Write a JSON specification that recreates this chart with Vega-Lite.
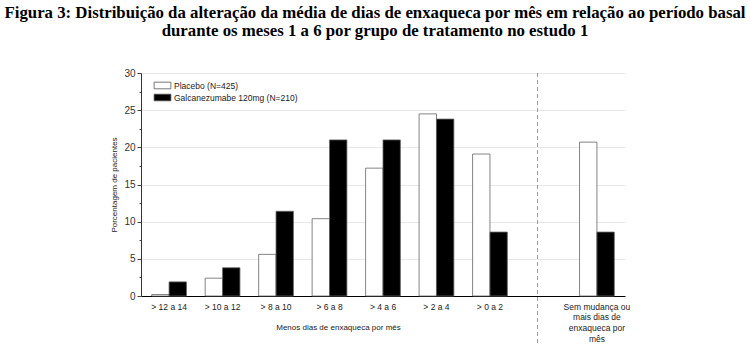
{
  "$schema": "https://vega.github.io/schema/vega-lite/v6.json",
  "width": 484,
  "height": 223,
  "autosize": {"type": "none"},
  "padding": {"left": 141, "top": 73, "right": 125, "bottom": 57},
  "background": "white",
  "title": {
    "text": ["Figura 3: Distribuição da alteração da média de dias de enxaqueca por mês em relação ao período basal", "durante os meses 1 a 6 por grupo de tratamento no estudo 1"],
    "font": "Liberation Serif",
    "fontSize": 16.8,
    "fontWeight": "bold",
    "color": "#000",
    "anchor": "middle",
    "dx": -8,
    "offset": 28,
    "lineHeight": 18
  },
  "config": {
    "view": {"stroke": null},
    "font": "Liberation Sans"
  },
  "resolve": {"axis": {"y": "independent", "x": "independent"}},
  "layer": [
    {
      "data": {
        "values": [
          {"cat": "> 12 a 14", "grp": "Placebo (N=425)", "pct": 0.2},
          {"cat": "> 12 a 14", "grp": "Galcanezumabe 120mg (N=210)", "pct": 1.9},
          {"cat": "> 10 a 12", "grp": "Placebo (N=425)", "pct": 2.4},
          {"cat": "> 10 a 12", "grp": "Galcanezumabe 120mg (N=210)", "pct": 3.8},
          {"cat": "> 8 a 10", "grp": "Placebo (N=425)", "pct": 5.6},
          {"cat": "> 8 a 10", "grp": "Galcanezumabe 120mg (N=210)", "pct": 11.4},
          {"cat": "> 6 a 8", "grp": "Placebo (N=425)", "pct": 10.4},
          {"cat": "> 6 a 8", "grp": "Galcanezumabe 120mg (N=210)", "pct": 21.0},
          {"cat": "> 4 a 6", "grp": "Placebo (N=425)", "pct": 17.2},
          {"cat": "> 4 a 6", "grp": "Galcanezumabe 120mg (N=210)", "pct": 21.0},
          {"cat": "> 2 a 4", "grp": "Placebo (N=425)", "pct": 24.5},
          {"cat": "> 2 a 4", "grp": "Galcanezumabe 120mg (N=210)", "pct": 23.8},
          {"cat": "> 0 a 2", "grp": "Placebo (N=425)", "pct": 19.1},
          {"cat": "> 0 a 2", "grp": "Galcanezumabe 120mg (N=210)", "pct": 8.6},
          {"cat": "Sem mudança ou mais dias de enxaqueca por mês", "grp": "Placebo (N=425)", "pct": 20.7},
          {"cat": "Sem mudança ou mais dias de enxaqueca por mês", "grp": "Galcanezumabe 120mg (N=210)", "pct": 8.6}
        ]
      },
      "mark": {"type": "bar", "stroke": "#666", "strokeWidth": 0.8},
      "encoding": {
        "x": {
          "field": "cat",
          "type": "nominal",
          "sort": null,
          "scale": {
            "domain": ["> 12 a 14", "> 10 a 12", "> 8 a 10", "> 6 a 8", "> 4 a 6", "> 2 a 4", "> 0 a 2", " ", "Sem mudança ou mais dias de enxaqueca por mês"],
            "paddingInner": 0.35,
            "paddingOuter": 0.2
          },
          "axis": {
            "title": "Menos dias de enxaqueca por mês",
            "titleFontSize": 8,
            "titleFontWeight": "normal",
            "titleColor": "#222",
            "titleX": 197,
            "titleY": 33,
            "titleBaseline": "alphabetic",
            "labelAngle": 0,
            "ticks": false,
            "labelFontSize": 8.5,
            "labelColor": "#222",
            "labelPadding": 6,
            "labelLineHeight": 10.7,
            "domainColor": "#000",
            "labelExpr": "datum.value == 'Sem mudança ou mais dias de enxaqueca por mês' ? ['Sem mudança ou', 'mais dias de', 'enxaqueca por', 'mês'] : datum.label"
          }
        },
        "xOffset": {
          "field": "grp",
          "type": "nominal",
          "sort": null,
          "scale": {"domain": ["Placebo (N=425)", "Galcanezumabe 120mg (N=210)"], "paddingInner": 0}
        },
        "y": {
          "field": "pct",
          "type": "quantitative",
          "scale": {"domain": [0, 30], "nice": false},
          "axis": {
            "title": "Porcentagem de pacientes",
            "titleFontSize": 8,
            "titleFontWeight": "normal",
            "titleColor": "#222",
            "titlePadding": 5,
            "values": [0, 2.5, 5, 7.5, 10, 12.5, 15, 17.5, 20, 22.5, 25, 27.5, 30],
            "labelExpr": "datum.value % 5 == 0 ? datum.label : ''",
            "labelOverlap": false,
            "labelFontSize": 10,
            "labelColor": "#333",
            "labelPadding": 2,
            "tickSize": {"condition": {"test": "datum.value % 5 == 0", "value": 4}, "value": 2},
            "tickColor": "#444",
            "domainColor": "#333",
            "grid": true,
            "gridColor": {"condition": {"test": "datum.value % 5 == 0 && datum.value > 0", "value": "#e8e8e8"}, "value": "rgba(255,255,255,0)"}
          }
        },
        "fill": {
          "field": "grp",
          "type": "nominal",
          "sort": null,
          "scale": {"domain": ["Placebo (N=425)", "Galcanezumabe 120mg (N=210)"], "range": ["white", "black"]},
          "legend": {
            "orient": "none",
            "legendX": 15,
            "legendY": 6,
            "title": null,
            "symbolType": "M-1.4,-0.55H1.4V0.55H-1.4Z",
            "symbolSize": 144,
            "symbolStrokeColor": "#555",
            "symbolStrokeWidth": 0.8,
            "labelFontSize": 8.5,
            "labelColor": "#222",
            "rowPadding": 0,
            "labelOffset": 5
          }
        }
      }
    },
    {
      "data": {"values": [{}]},
      "mark": {"type": "rule", "strokeDash": [4, 3], "color": "#999", "strokeWidth": 1, "clip": false},
      "encoding": {
        "x": {"datum": " ", "bandPosition": 0.33, "axis": null},
        "y": {"datum": 30, "axis": null},
        "y2": {"datum": -6.6}
      }
    }
  ]
}
